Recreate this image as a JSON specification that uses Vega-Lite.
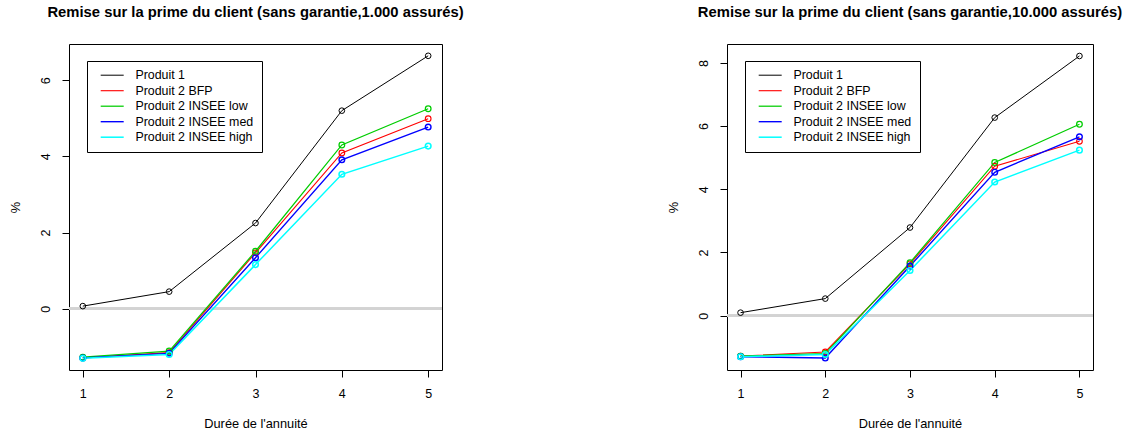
{
  "$schema": "https://vega.github.io/schema/vega-lite/v6.json",
  "padding": {"left": 8, "top": 4, "right": 0, "bottom": 5},
  "background": "white",
  "config": {
    "font": "Liberation Sans",
    "view": {"stroke": "black", "strokeWidth": 1},
    "axis": {"grid": false, "domain": false, "tickColor": "black", "tickSize": 7, "labelColor": "black", "labelFontSize": 12.5, "labelFont": "Liberation Sans", "titleFont": "Liberation Sans", "titleFontSize": 12.8, "titleFontWeight": "normal", "titleColor": "black"},
    "title": {"font": "Liberation Sans", "fontSize": 14.8, "fontWeight": "bold", "anchor": "middle", "frame": "group", "color": "black", "offset": 24},
    "legend": {"orient": "none", "legendX": 18, "legendY": 17, "strokeColor": "black", "fillColor": "white", "padding": 8, "labelFontSize": 12.4, "labelFont": "Liberation Sans", "labelColor": "black", "symbolType": "M-2.3,0H2.3", "symbolSize": 100, "symbolStrokeWidth": 1.5, "symbolOffset": 11, "labelOffset": 17, "rowPadding": 2.5}
  },
  "datasets": {
    "a": [
      {"duree": 1, "pct": 0.07, "serie": "Produit 1"},
      {"duree": 2, "pct": 0.45, "serie": "Produit 1"},
      {"duree": 3, "pct": 2.25, "serie": "Produit 1"},
      {"duree": 4, "pct": 5.20, "serie": "Produit 1"},
      {"duree": 5, "pct": 6.64, "serie": "Produit 1"},
      {"duree": 1, "pct": -1.29, "serie": "Produit 2 BFP"},
      {"duree": 2, "pct": -1.15, "serie": "Produit 2 BFP"},
      {"duree": 3, "pct": 1.47, "serie": "Produit 2 BFP"},
      {"duree": 4, "pct": 4.09, "serie": "Produit 2 BFP"},
      {"duree": 5, "pct": 4.99, "serie": "Produit 2 BFP"},
      {"duree": 1, "pct": -1.27, "serie": "Produit 2 INSEE low"},
      {"duree": 2, "pct": -1.11, "serie": "Produit 2 INSEE low"},
      {"duree": 3, "pct": 1.51, "serie": "Produit 2 INSEE low"},
      {"duree": 4, "pct": 4.30, "serie": "Produit 2 INSEE low"},
      {"duree": 5, "pct": 5.25, "serie": "Produit 2 INSEE low"},
      {"duree": 1, "pct": -1.29, "serie": "Produit 2 INSEE med"},
      {"duree": 2, "pct": -1.17, "serie": "Produit 2 INSEE med"},
      {"duree": 3, "pct": 1.34, "serie": "Produit 2 INSEE med"},
      {"duree": 4, "pct": 3.91, "serie": "Produit 2 INSEE med"},
      {"duree": 5, "pct": 4.77, "serie": "Produit 2 INSEE med"},
      {"duree": 1, "pct": -1.30, "serie": "Produit 2 INSEE high"},
      {"duree": 2, "pct": -1.20, "serie": "Produit 2 INSEE high"},
      {"duree": 3, "pct": 1.16, "serie": "Produit 2 INSEE high"},
      {"duree": 4, "pct": 3.53, "serie": "Produit 2 INSEE high"},
      {"duree": 5, "pct": 4.27, "serie": "Produit 2 INSEE high"}
    ],
    "b": [
      {"duree": 1, "pct": 0.095, "serie": "Produit 1"},
      {"duree": 2, "pct": 0.54, "serie": "Produit 1"},
      {"duree": 3, "pct": 2.79, "serie": "Produit 1"},
      {"duree": 4, "pct": 6.27, "serie": "Produit 1"},
      {"duree": 5, "pct": 8.22, "serie": "Produit 1"},
      {"duree": 1, "pct": -1.28, "serie": "Produit 2 BFP"},
      {"duree": 2, "pct": -1.15, "serie": "Produit 2 BFP"},
      {"duree": 3, "pct": 1.64, "serie": "Produit 2 BFP"},
      {"duree": 4, "pct": 4.73, "serie": "Produit 2 BFP"},
      {"duree": 5, "pct": 5.52, "serie": "Produit 2 BFP"},
      {"duree": 1, "pct": -1.28, "serie": "Produit 2 INSEE low"},
      {"duree": 2, "pct": -1.20, "serie": "Produit 2 INSEE low"},
      {"duree": 3, "pct": 1.68, "serie": "Produit 2 INSEE low"},
      {"duree": 4, "pct": 4.85, "serie": "Produit 2 INSEE low"},
      {"duree": 5, "pct": 6.06, "serie": "Produit 2 INSEE low"},
      {"duree": 1, "pct": -1.30, "serie": "Produit 2 INSEE med"},
      {"duree": 2, "pct": -1.34, "serie": "Produit 2 INSEE med"},
      {"duree": 3, "pct": 1.57, "serie": "Produit 2 INSEE med"},
      {"duree": 4, "pct": 4.54, "serie": "Produit 2 INSEE med"},
      {"duree": 5, "pct": 5.66, "serie": "Produit 2 INSEE med"},
      {"duree": 1, "pct": -1.30, "serie": "Produit 2 INSEE high"},
      {"duree": 2, "pct": -1.23, "serie": "Produit 2 INSEE high"},
      {"duree": 3, "pct": 1.43, "serie": "Produit 2 INSEE high"},
      {"duree": 4, "pct": 4.23, "serie": "Produit 2 INSEE high"},
      {"duree": 5, "pct": 5.24, "serie": "Produit 2 INSEE high"}
    ]
  },
  "resolve": {"scale": {"color": "independent", "strokeWidth": "independent"}, "legend": {"color": "independent"}},
  "spacing": 201,
  "hconcat": [
    {
      "title": "Remise sur la prime du client (sans garantie,1.000 assurés)",
      "width": 373,
      "height": 326,
      "data": {"name": "a"},
      "encoding": {
        "x": {"field": "duree", "type": "quantitative", "scale": {"domain": [0.84, 5.16], "nice": false, "zero": false}, "axis": {"values": [1, 2, 3, 4, 5], "title": "Durée de l'annuité", "labelPadding": 10, "titlePadding": 18}},
        "y": {"field": "pct", "type": "quantitative", "scale": {"domain": [-1.607, 6.95], "nice": false, "zero": false}, "axis": {"values": [0, 2, 4, 6], "title": "%", "labelAngle": -90, "labelAlign": "center", "labelBaseline": "bottom", "labelPadding": 10, "titlePadding": 17}}
      },
      "layer": [
        {"mark": {"type": "rule", "color": "#d3d3d3", "strokeWidth": 2}, "encoding": {"y": {"datum": 0}, "x": {"value": 0}, "x2": {"value": 373}}},
        {
          "mark": {"type": "line"},
          "encoding": {
            "color": {"field": "serie", "type": "nominal", "scale": {"domain": ["Produit 1", "Produit 2 BFP", "Produit 2 INSEE low", "Produit 2 INSEE med", "Produit 2 INSEE high"], "range": ["#000000", "#ff0000", "#00cd00", "#0000ff", "#00ffff"]}, "legend": {"title": null}, "sort": null},
            "strokeWidth": {"field": "serie", "type": "nominal", "scale": {"domain": ["Produit 1", "Produit 2 BFP", "Produit 2 INSEE low", "Produit 2 INSEE med", "Produit 2 INSEE high"], "range": [1, 1.5, 1.5, 1.5, 1.5]}, "legend": null}
          }
        },
        {
          "mark": {"type": "point", "filled": false, "size": 32, "opacity": 1},
          "encoding": {
            "color": {"field": "serie", "type": "nominal", "scale": {"domain": ["Produit 1", "Produit 2 BFP", "Produit 2 INSEE low", "Produit 2 INSEE med", "Produit 2 INSEE high"], "range": ["#000000", "#ff0000", "#00cd00", "#0000ff", "#00ffff"]}, "legend": {"title": null}},
            "strokeWidth": {"field": "serie", "type": "nominal", "scale": {"domain": ["Produit 1", "Produit 2 BFP", "Produit 2 INSEE low", "Produit 2 INSEE med", "Produit 2 INSEE high"], "range": [1, 1.5, 1.5, 1.5, 1.5]}, "legend": null}
          }
        }
      ]
    },
    {
      "title": "Remise sur la prime du client (sans garantie,10.000 assurés)",
      "width": 366,
      "height": 326,
      "data": {"name": "b"},
      "encoding": {
        "x": {"field": "duree", "type": "quantitative", "scale": {"domain": [0.84, 5.16], "nice": false, "zero": false}, "axis": {"values": [1, 2, 3, 4, 5], "title": "Durée de l'annuité", "labelPadding": 10, "titlePadding": 18}},
        "y": {"field": "pct", "type": "quantitative", "scale": {"domain": [-1.72, 8.6], "nice": false, "zero": false}, "axis": {"values": [0, 2, 4, 6, 8], "title": "%", "labelAngle": -90, "labelAlign": "center", "labelBaseline": "bottom", "labelPadding": 10, "titlePadding": 17}}
      },
      "layer": [
        {"mark": {"type": "rule", "color": "#d3d3d3", "strokeWidth": 2}, "encoding": {"y": {"datum": 0}, "x": {"value": 0}, "x2": {"value": 366}}},
        {
          "mark": {"type": "line"},
          "encoding": {
            "color": {"field": "serie", "type": "nominal", "scale": {"domain": ["Produit 1", "Produit 2 BFP", "Produit 2 INSEE low", "Produit 2 INSEE med", "Produit 2 INSEE high"], "range": ["#000000", "#ff0000", "#00cd00", "#0000ff", "#00ffff"]}, "legend": {"title": null}},
            "strokeWidth": {"field": "serie", "type": "nominal", "scale": {"domain": ["Produit 1", "Produit 2 BFP", "Produit 2 INSEE low", "Produit 2 INSEE med", "Produit 2 INSEE high"], "range": [1, 1.5, 1.5, 1.5, 1.5]}, "legend": null}
          }
        },
        {
          "mark": {"type": "point", "filled": false, "size": 32, "opacity": 1},
          "encoding": {
            "color": {"field": "serie", "type": "nominal", "scale": {"domain": ["Produit 1", "Produit 2 BFP", "Produit 2 INSEE low", "Produit 2 INSEE med", "Produit 2 INSEE high"], "range": ["#000000", "#ff0000", "#00cd00", "#0000ff", "#00ffff"]}, "legend": {"title": null}},
            "strokeWidth": {"field": "serie", "type": "nominal", "scale": {"domain": ["Produit 1", "Produit 2 BFP", "Produit 2 INSEE low", "Produit 2 INSEE med", "Produit 2 INSEE high"], "range": [1, 1.5, 1.5, 1.5, 1.5]}, "legend": null}
          }
        }
      ]
    }
  ]
}
